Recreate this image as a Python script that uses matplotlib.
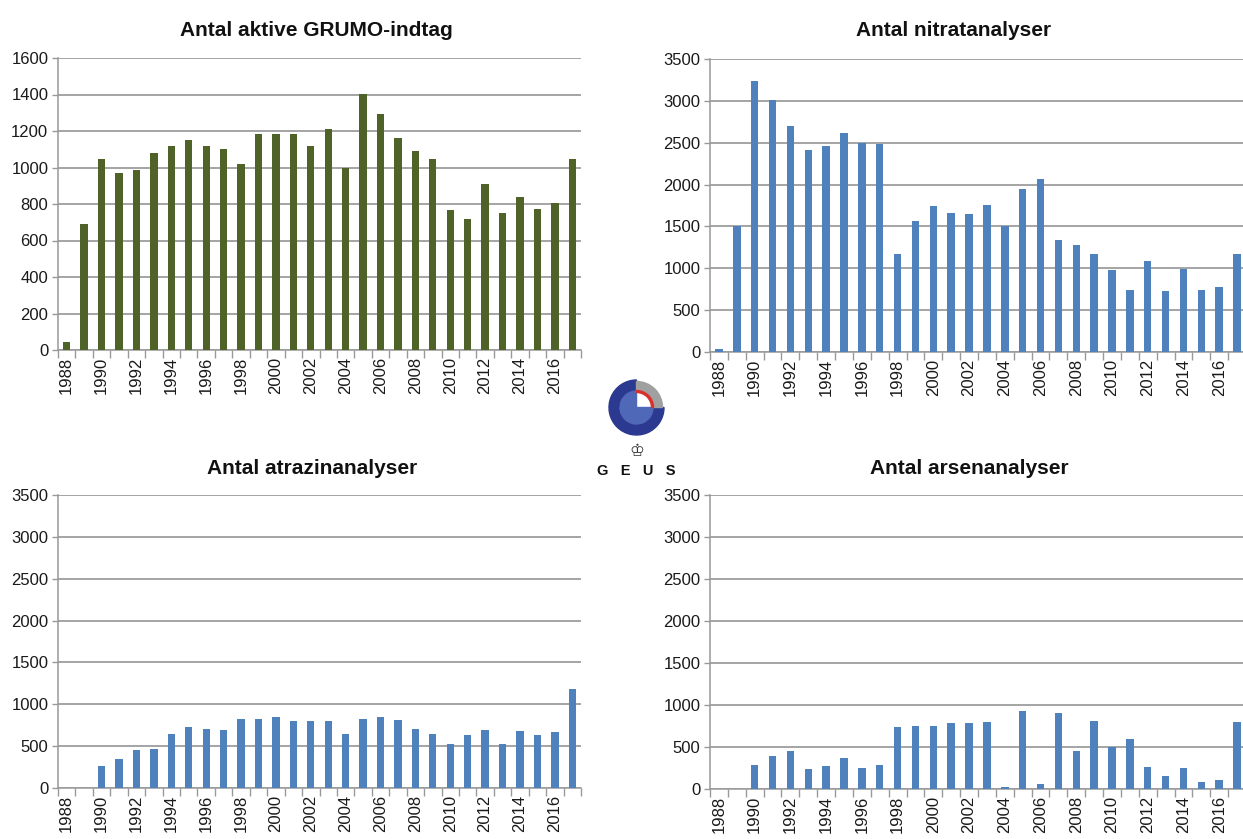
import matplotlib
matplotlib.use("Agg")
import matplotlib.pyplot as plt
import numpy as np
from matplotlib.patches import Wedge

plt.rcParams["font.family"] = ["Liberation Sans", "DejaVu Sans"]

years = list(range(1988, 2018))

grumo = [45, 690, 1045, 970, 985, 1080, 1120, 1150, 1120, 1100,
         1020, 1185, 1185, 1185, 1120, 1210, 1000, 1405, 1295, 1160,
         1090, 1045, 765, 720, 910, 750, 840, 775, 805, 1045]

nitrat = [30, 1510, 3240, 3005, 2700, 2410, 2465, 2620, 2500, 2490,
          1165, 1570, 1740, 1665, 1645, 1760, 1510, 1950, 2065, 1335,
          1280, 1165, 975, 740, 1090, 725, 995, 740, 780, 1165]

atrazin = [0, 0, 265, 350, 455, 470, 650, 725, 710, 695,
           825, 825, 850, 800, 800, 800, 650, 825, 850, 810,
           710, 650, 520, 635, 695, 520, 680, 635, 665, 1185]

arsen = [0, 0, 280, 395, 455, 240, 270, 365, 250, 280,
         740, 755, 755, 780, 780, 795, 20, 925, 55, 910,
         455, 810, 500, 595, 265, 150, 250, 80, 105, 795]

GREEN = "#4f6228"
BLUE = "#4f81bd"
GRID = "#8c8c8c"

W, H = 1243, 839


def px_axes(fig, x0, y_top, x1, y_bot):
    return fig.add_axes([x0 / W, 1 - y_bot / H, (x1 - x0) / W, (y_bot - y_top) / H])


def panel(ax, values, color, ymax, ystep):
    x = np.arange(len(years))
    ax.bar(x, values, width=0.42, color=color, zorder=3)
    ax.set_xlim(-0.5, len(years) - 0.5)
    ax.set_ylim(0, ymax)
    ax.set_yticks(np.arange(0, ymax + 1, ystep))
    ax.yaxis.grid(True, color=GRID, linewidth=1.1, zorder=0)
    ax.set_axisbelow(True)
    ax.set_xticks(x[::2], [str(y) for y in years[::2]], rotation=90)
    ax.set_xticks(np.arange(-0.5, len(years), 1), minor=True)
    ax.tick_params(axis="x", which="major", length=0, pad=5, labelsize=12, labelcolor="#1a1a1a")
    ax.tick_params(axis="x", which="minor", length=6, width=1, color="#999999", direction="out")
    ax.tick_params(axis="y", length=4, width=1, color="#999999", labelsize=12, labelcolor="#1a1a1a", pad=3)
    for s in ["top", "right"]:
        ax.spines[s].set_visible(False)
    for s in ["left", "bottom"]:
        ax.spines[s].set_color("#999999")
        ax.spines[s].set_linewidth(1.1)


fig = plt.figure(figsize=(W / 100, H / 100), dpi=100)

ax1 = px_axes(fig, 58, 58, 581, 350)
panel(ax1, grumo, GREEN, 1600, 200)
ax2 = px_axes(fig, 710, 59, 1246, 352)
panel(ax2, nitrat, BLUE, 3500, 500)
ax3 = px_axes(fig, 58, 495, 581, 788)
panel(ax3, atrazin, BLUE, 3500, 500)
ax4 = px_axes(fig, 710, 495, 1246, 789)
panel(ax4, arsen, BLUE, 3500, 500)

titles = [("Antal aktive GRUMO-indtag", 316, 30),
          ("Antal nitratanalyser", 954, 30),
          ("Antal atrazinanalyser", 312, 468),
          ("Antal arsenanalyser", 969, 468)]
for t, tx, ty in titles:
    fig.text(tx / W, 1 - ty / H, t, ha="center", va="center",
             fontsize=15, fontweight="bold", color="#111111")

# GEUS logo, drawn in pixel units
lg = px_axes(fig, 598, 370, 678, 480)
lg.set_xlim(598, 678)
lg.set_ylim(480, 370)
lg.set_aspect("equal")
lg.axis("off")
cx, cy = 636.5, 407.5
# y axis is inverted, so angles run clockwise on screen
lg.add_patch(Wedge((cx, cy), 27.5, 0, 270, width=11, color="#2b3990"))
lg.add_patch(Wedge((cx, cy), 26, 270, 360, width=9, color="#a0a0a0"))
lg.add_patch(Wedge((cx, cy), 16.5, 0, 270, color="#5068b8"))
lg.add_patch(Wedge((cx, cy), 17, 270, 360, width=2, color="#d9302c"))
lg.text(cx, 451, "\u2654", ha="center", va="center", fontsize=12,
        family=["DejaVu Sans"], color="#333333")
lg.text(cx, 471, "G   E   U   S", ha="center", va="center", fontsize=10.5,
        fontweight="bold", color="#111111")

fig.savefig("out.png", dpi=100)
